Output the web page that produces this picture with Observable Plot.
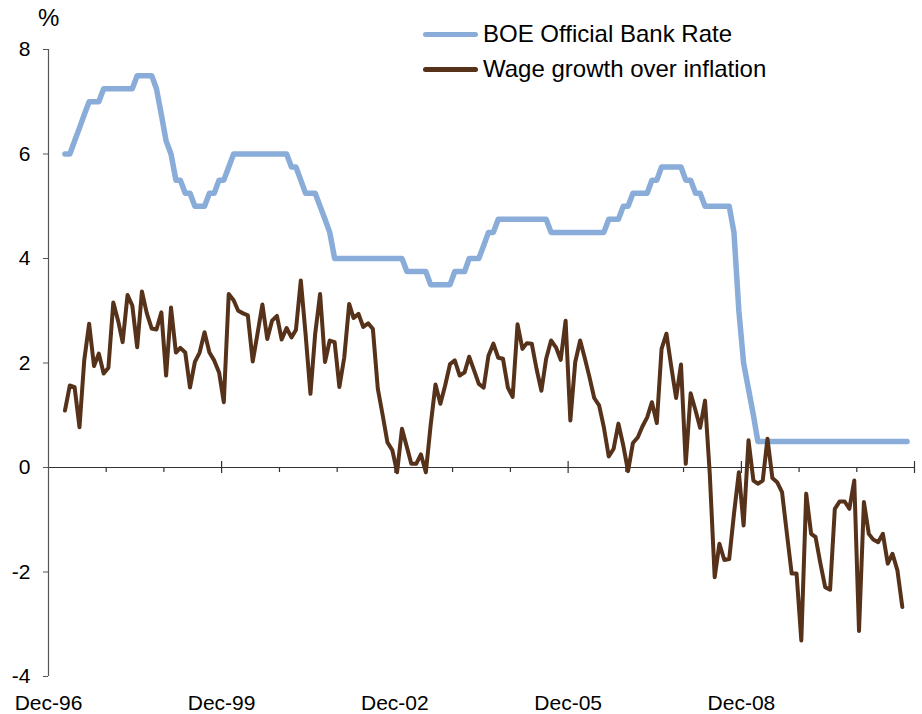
<!DOCTYPE html>
<html><head><meta charset="utf-8">
<script src="https://cdn.jsdelivr.net/npm/d3@7"></script>
<script src="https://cdn.jsdelivr.net/npm/@observablehq/plot@0.6"></script>
<style>
body{margin:0;background:#fff;font-family:"Liberation Sans",Arial,sans-serif;}
#wrap{position:relative;width:922px;height:714px;overflow:hidden;}
.unit{position:absolute;left:38px;top:6px;font-size:24px;line-height:24px;color:#000;}
.leg{position:absolute;left:423px;font-size:24px;line-height:24px;color:#000;white-space:nowrap;}
.leg .sw{position:absolute;left:0;width:55px;border-radius:3px;}
.leg .tx{position:absolute;left:60px;top:0;}
</style></head><body>
<div id="wrap"></div>
<script>
// ---- data (monthly, first value = March 1997) ----
const firstMonth = "1997-03";
const bankRate = [
6.0,6.0,6.25,6.5,6.75,7.0,7.0,7.0,7.25,7.25,7.25,7.25,7.25,7.25,7.25,7.5,7.5,7.5,7.5,7.25,
6.75,6.25,6.0,5.5,5.5,5.25,5.25,5.0,5.0,5.0,5.25,5.25,5.5,5.5,5.75,6.0,6.0,6.0,6.0,6.0,
6.0,6.0,6.0,6.0,6.0,6.0,6.0,5.75,5.75,5.5,5.25,5.25,5.25,5.0,4.75,4.5,4.0,4.0,4.0,4.0,
4.0,4.0,4.0,4.0,4.0,4.0,4.0,4.0,4.0,4.0,4.0,3.75,3.75,3.75,3.75,3.75,3.5,3.5,3.5,3.5,
3.5,3.75,3.75,3.75,4.0,4.0,4.0,4.25,4.5,4.5,4.75,4.75,4.75,4.75,4.75,4.75,4.75,4.75,4.75,4.75,
4.75,4.5,4.5,4.5,4.5,4.5,4.5,4.5,4.5,4.5,4.5,4.5,4.5,4.75,4.75,4.75,5.0,5.0,5.25,5.25,
5.25,5.25,5.5,5.5,5.75,5.75,5.75,5.75,5.75,5.5,5.5,5.25,5.25,5.0,5.0,5.0,5.0,5.0,5.0,4.5,
3.0,2.0,1.5,1.0,0.5,0.5,0.5,0.5,0.5,0.5,0.5,0.5,0.5,0.5,0.5,0.5,0.5,0.5,0.5,0.5,
0.5,0.5,0.5,0.5,0.5,0.5,0.5,0.5,0.5,0.5,0.5,0.5,0.5,0.5,0.5,0.5
];
const wageOverInflation = [
1.09,1.57,1.54,0.77,2.05,2.75,1.94,2.18,1.80,1.91,3.16,2.80,2.40,3.30,3.10,2.30,3.37,2.95,2.66,2.64,
2.97,1.76,3.06,2.20,2.29,2.20,1.53,2.02,2.20,2.59,2.20,2.05,1.82,1.25,3.32,3.20,3.00,2.95,2.91,2.03,
2.56,3.12,2.46,2.81,2.90,2.45,2.67,2.49,2.63,3.58,2.56,1.41,2.56,3.32,2.02,2.43,2.40,1.54,2.11,3.13,
2.86,2.94,2.69,2.76,2.65,1.51,1.00,0.48,0.33,-0.09,0.74,0.39,0.07,0.07,0.25,-0.09,0.80,1.59,1.22,1.57,
1.98,2.05,1.76,1.82,2.12,1.86,1.60,1.53,2.14,2.37,2.10,2.08,1.53,1.35,2.74,2.27,2.38,2.37,1.89,1.47,
2.08,2.43,2.30,2.06,2.81,0.90,2.02,2.43,2.11,1.73,1.33,1.19,0.77,0.21,0.36,0.84,0.42,-0.07,0.47,0.58,
0.78,0.96,1.25,0.85,2.27,2.56,1.92,1.33,1.97,0.07,1.42,1.09,0.76,1.28,-0.12,-2.10,-1.46,-1.77,-1.75,-0.89,
-0.09,-1.11,0.52,-0.25,-0.31,-0.25,0.55,-0.20,-0.28,-0.47,-1.27,-2.03,-2.03,-3.31,-0.50,-1.27,-1.33,-1.84,-2.29,-2.34,
-0.79,-0.65,-0.65,-0.79,-0.25,-3.13,-0.66,-1.27,-1.38,-1.43,-1.27,-1.84,-1.65,-1.97,-2.67
];
const seriesNames = ["BOE Official Bank Rate", "Wage growth over inflation"];
const seriesColors = ["#89acd9", "#56321a"];
const xDomain = ["1996-12", "2011-12"];
const xLabelMonths = ["1996-12", "1999-12", "2002-12", "2005-12", "2008-12"];
const majorTickMonths = ["1999-12", "2002-12", "2005-12", "2008-12", "2011-12"];
const minorTickMonths = ["1997-12", "1998-12", "2000-12", "2001-12", "2003-12", "2004-12", "2006-12", "2007-12", "2009-12", "2010-12"];
const yDomain = [-4, 8];
const yTicks = [-4, -2, 0, 2, 4, 6, 8];
const unitLabel = "%";

// ---- build ----
const parse = d3.utcParse("%Y-%m");
const start = parse(firstMonth);
const toRows = arr => arr.map((v, i) => ({date: d3.utcDay.offset(d3.utcMonth.offset(start, i), 14), value: v}));
const rateRows = toRows(bankRate);
const wageRows = toRows(wageOverInflation);
const fmt = d3.utcFormat("%b-%y");

const chart = Plot.plot({
  width: 922, height: 714,
  marginLeft: 48, marginRight: 8, marginTop: 49, marginBottom: 38,
  style: {fontFamily: "'Liberation Sans', Arial, sans-serif", fontSize: "21px", color: "#000", background: "#fff", overflow: "visible"},
  x: {type: "utc", domain: xDomain.map(parse)},
  y: {domain: yDomain},
  marks: [
    Plot.ruleY([0], {stroke: "#333", strokeWidth: 1.2}),
    Plot.ruleX([parse(xDomain[0])], {stroke: "#555", strokeWidth: 1.2}),
    Plot.ruleX(minorTickMonths.map(parse), {y1: 0, y2: 0, insetBottom: -5, stroke: "#333", strokeWidth: 1.2}),
    Plot.ruleX(majorTickMonths.map(parse), {y1: 0, y2: 0, insetTop: -6, insetBottom: -6, stroke: "#333", strokeWidth: 1.2}),
    Plot.axisY({ticks: yTicks, tickSize: 5, tickPadding: 13, tickFormat: d => String(d), label: null, stroke: "#555"}),
    Plot.axisX({ticks: xLabelMonths.map(parse), tickFormat: fmt, tickSize: 0, tickPadding: 19, label: null}),
    Plot.line(rateRows, {x: "date", y: "value", stroke: seriesColors[0], strokeWidth: 5.5, strokeLinejoin: "round", strokeLinecap: "round"}),
    Plot.line(wageRows, {x: "date", y: "value", stroke: seriesColors[1], strokeWidth: 4, strokeLinejoin: "round", strokeLinecap: "round"})
  ]
});

const wrap = document.getElementById("wrap");
wrap.appendChild(chart);

const unit = document.createElement("div");
unit.className = "unit";
unit.textContent = unitLabel;
wrap.appendChild(unit);

const legTops = [22, 57];
const swH = [5.5, 4.5];
seriesNames.forEach((name, i) => {
  const row = document.createElement("div");
  row.className = "leg";
  row.style.top = legTops[i] + "px";
  const sw = document.createElement("div");
  sw.className = "sw";
  sw.style.background = seriesColors[i];
  sw.style.height = swH[i] + "px";
  sw.style.top = (12.5 - swH[i] / 2) + "px";
  const tx = document.createElement("div");
  tx.className = "tx";
  tx.textContent = name;
  row.appendChild(sw);
  row.appendChild(tx);
  wrap.appendChild(row);
});
</script>
</body></html>
